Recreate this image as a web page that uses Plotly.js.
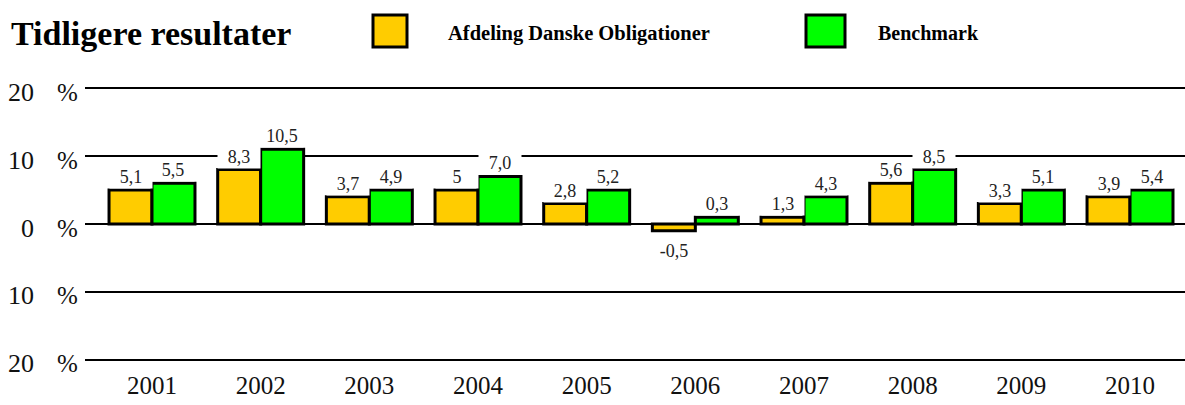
<!DOCTYPE html>
<html>
<head>
<meta charset="utf-8">
<script src="https://cdn.plot.ly/plotly-3.0.1.min.js"></script>
<style>html,body{margin:0;padding:0;background:#fff;}#chart{width:1185px;height:405px;}</style>
</head>
<body>
<div id="chart"></div>
<script>
// ---- data ----
const years = ['2001','2002','2003','2004','2005','2006','2007','2008','2009','2010'];
const fundName = 'Afdeling Danske Obligationer';
const benchName = 'Benchmark';
// bar heights as drawn in the picture
const fundBars = [5, 8, 4, 5, 3, -1, 1, 6, 3, 4];
const benchBars = [6, 11, 5, 7, 5, 1, 4, 8, 5, 5];
// value labels printed above the bars
const fundLabels = ['5,1','8,3','3,7','5','2,8','-0,5','1,3','5,6','3,3','3,9'];
const benchLabels = ['5,5','10,5','4,9','7,0','5,2','0,3','4,3','8,5','5,1','5,4'];
const yTickVals = [20, 10, 0, -10, -20];
const yTickText = ['20', '10', '0', '10', '20'];
const titleText = 'Tidligere resultater';

// ---- layout helpers ----
const W = 1185, H = 405;
const M = {l: 85, r: 0, t: 80, b: 37};
const plotH = H - M.t - M.b, plotW = W - M.l - M.r;
const px = x => (x - M.l) / plotW;
const py = y => (H - M.b - y) / plotH;

const SERIF = '"Liberation Serif", "Times New Roman", serif';
const orange = '#FFCC00', green = '#00FF00';
const bargap = 0.209;
const half = (1 - bargap) / 4;

const traces = [
  {type: 'bar', name: fundName, x: years, y: fundBars,
   marker: {color: orange, line: {color: '#000', width: 3}}, hoverinfo: 'skip'},
  {type: 'bar', name: benchName, x: years, y: benchBars,
   marker: {color: green, line: {color: '#000', width: 3}}, hoverinfo: 'skip'}
];

const annotations = [];
function addLabels(bars, labels, offset) {
  bars.forEach((v, i) => {
    annotations.push({
      xref: 'x', yref: 'y', x: i + offset, y: v,
      text: labels[i], showarrow: false,
      xanchor: 'center', yanchor: 'middle',
      yshift: v >= 0 ? 13 : -20,
      bgcolor: v >= 0 ? '#fff' : 'rgba(0,0,0,0)', width: 40, height: 20,
      font: {family: SERIF, size: 18, color: '#222'}
    });
  });
}
addLabels(fundBars, fundLabels, -half);
addLabels(benchBars, benchLabels, half);

// y tick labels "20  %"
yTickVals.forEach((v, i) => {
  annotations.push({xref: 'paper', yref: 'y', x: px(36), y: v, text: yTickText[i],
    showarrow: false, xanchor: 'right', yanchor: 'middle', yshift: -4,
    font: {family: SERIF, size: 26, color: '#111'}});
  annotations.push({xref: 'paper', yref: 'y', x: px(55), y: v, text: '%',
    showarrow: false, xanchor: 'left', yanchor: 'middle', yshift: -4,
    font: {family: SERIF, size: 25, color: '#111'}});
});

// title
annotations.push({xref: 'paper', yref: 'paper', x: px(9), y: py(34), text: '<b>' + titleText + '</b>',
  showarrow: false, xanchor: 'left', yanchor: 'middle',
  font: {family: SERIF, size: 34, color: '#000'}});
// legend texts
annotations.push({xref: 'paper', yref: 'paper', x: px(446), y: py(33), text: '<b>' + fundName + '</b>',
  showarrow: false, xanchor: 'left', yanchor: 'middle',
  font: {family: SERIF, size: 20.5, color: '#000'}});
annotations.push({xref: 'paper', yref: 'paper', x: px(876), y: py(33), text: '<b>' + benchName + '</b>',
  showarrow: false, xanchor: 'left', yanchor: 'middle',
  font: {family: SERIF, size: 20, color: '#000'}});

const shapes = [
  {type: 'rect', xref: 'paper', yref: 'paper', x0: px(373), x1: px(407), y0: py(47), y1: py(15),
   fillcolor: orange, line: {color: '#000', width: 3}},
  {type: 'rect', xref: 'paper', yref: 'paper', x0: px(806), x1: px(845), y0: py(47), y1: py(15),
   fillcolor: green, line: {color: '#000', width: 3}}
];

const layout = {
  width: W, height: H,
  margin: M,
  paper_bgcolor: '#fff', plot_bgcolor: '#fff',
  showlegend: false,
  barmode: 'group', bargap: bargap, bargroupgap: 0,
  xaxis: {type: 'category', range: [-0.6166, 9.506], showgrid: false, zeroline: false,
    showline: false, ticks: '', ticklabelstandoff: 0,
    tickfont: {family: SERIF, size: 25, color: '#111'}, fixedrange: true},
  yaxis: {range: [-21.18, 21.18], tickvals: yTickVals, showticklabels: false,
    showgrid: true, gridcolor: '#000', gridwidth: 2,
    zeroline: true, zerolinecolor: '#000', zerolinewidth: 2,
    showline: false, ticks: '', fixedrange: true},
  annotations: annotations,
  shapes: shapes
};

Plotly.newPlot('chart', traces, layout, {displayModeBar: false, staticPlot: true});
</script>
</body>
</html>
